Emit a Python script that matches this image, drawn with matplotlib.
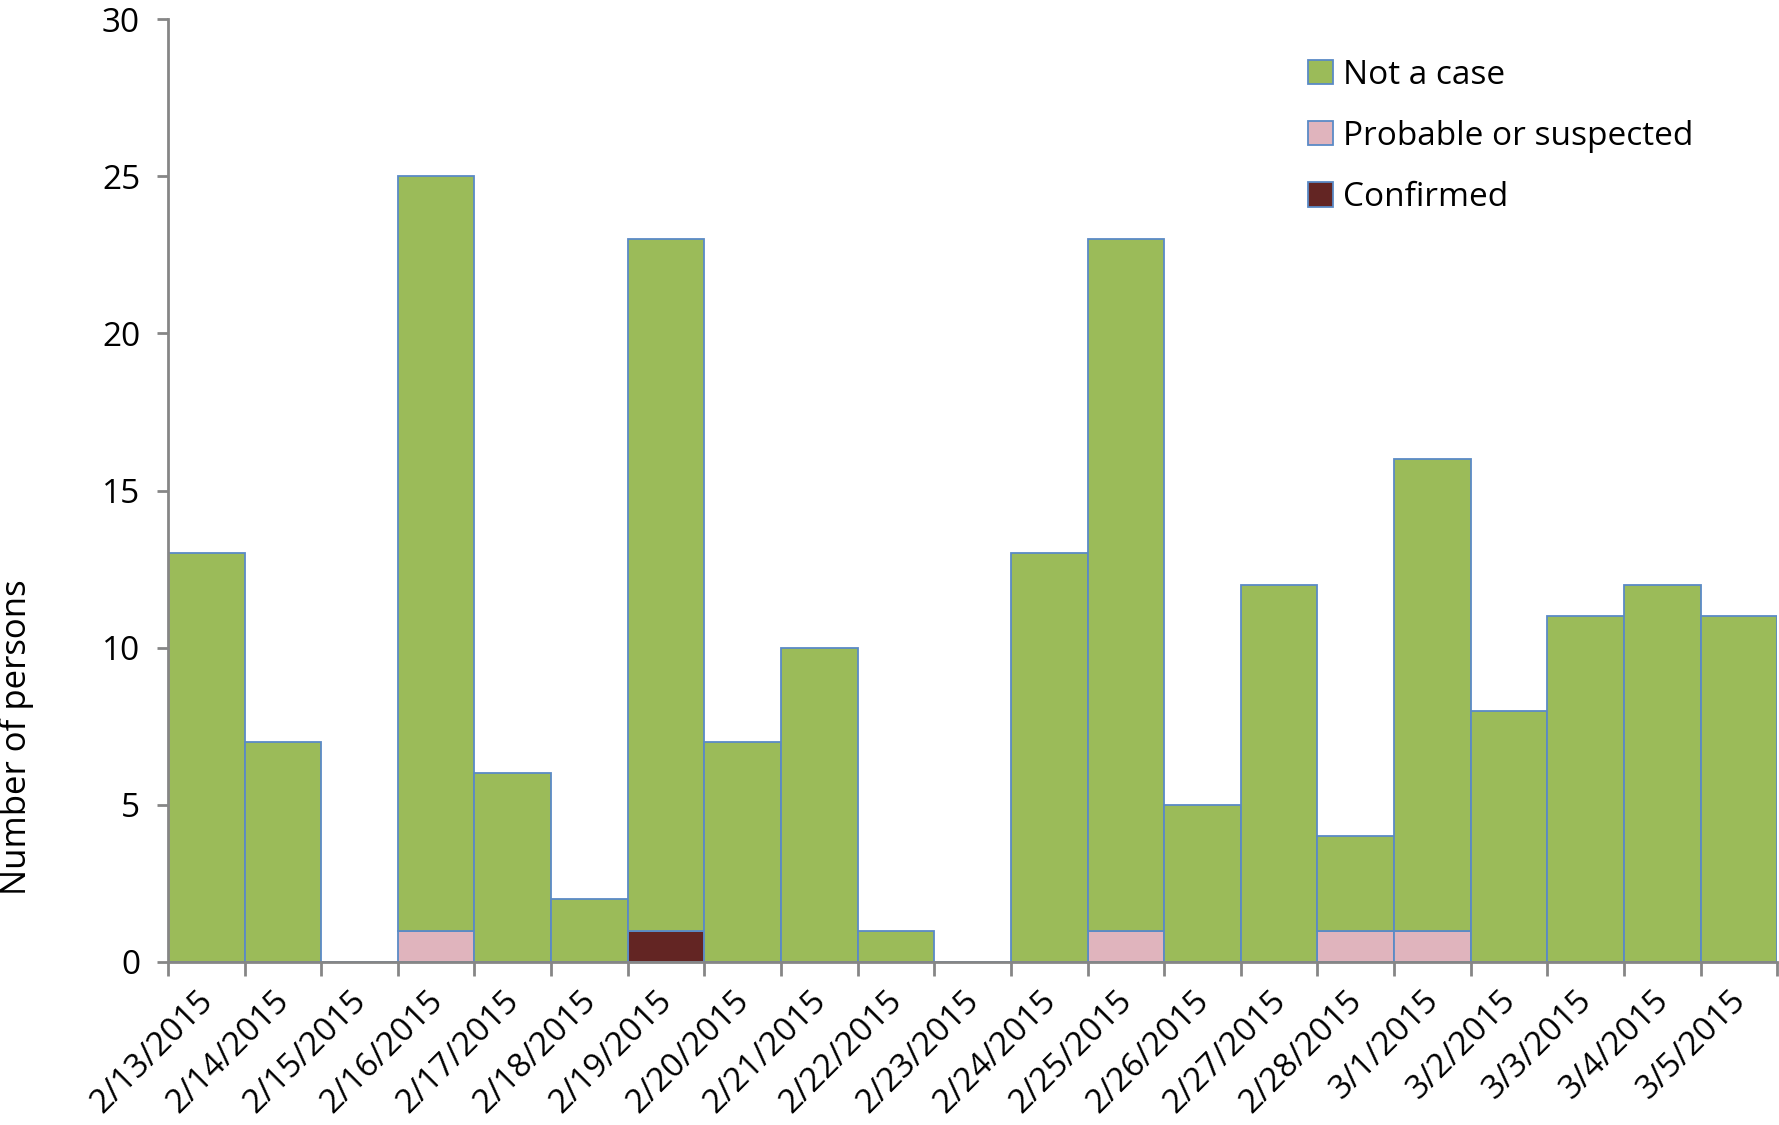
import matplotlib
matplotlib.use("Agg")
import matplotlib.pyplot as plt
import matplotlib.transforms as mtransforms
import numpy as np

dates = ["2/13/2015", "2/14/2015", "2/15/2015", "2/16/2015", "2/17/2015", "2/18/2015",
         "2/19/2015", "2/20/2015", "2/21/2015", "2/22/2015", "2/23/2015", "2/24/2015",
         "2/25/2015", "2/26/2015", "2/27/2015", "2/28/2015", "3/1/2015", "3/2/2015",
         "3/3/2015", "3/4/2015", "3/5/2015"]
confirmed = [0, 0, 0, 0, 0, 0, 1, 0, 0, 0, 0, 0, 0, 0, 0, 0, 0, 0, 0, 0, 0]
probable = [0, 0, 0, 1, 0, 0, 0, 0, 0, 0, 0, 0, 1, 0, 0, 1, 1, 0, 0, 0, 0]
not_case = [13, 7, 0, 24, 6, 2, 22, 7, 10, 1, 0, 13, 22, 5, 12, 3, 15, 8, 11, 12, 11]

plt.rcParams['font.family'] = ['Open Sans', 'DejaVu Sans']

fig = plt.figure(figsize=(17.79, 11.25), dpi=100)
ax = fig.add_axes([0.0944, 0.1449, 0.9046, 0.8381])

x = np.arange(len(dates))
conf = np.array(confirmed)
prob = np.array(probable)
notc = np.array(not_case)
edge = '#5A8AC6'
ax.bar(x, conf, width=1.0, color='#632523', edgecolor=edge, linewidth=1.3, label='Confirmed')
ax.bar(x, prob, width=1.0, bottom=conf, color='#E0B4BD', edgecolor=edge, linewidth=1.3,
       label='Probable or suspected')
ax.bar(x, notc, width=1.0, bottom=conf + prob, color='#9BBB59', edgecolor=edge, linewidth=1.3,
       label='Not a case')

ax.set_xlim(-0.5, len(dates) - 0.5)
ax.set_ylim(0, 30)
ax.set_yticks([0, 5, 10, 15, 20, 25, 30])
ax.tick_params(axis='y', labelsize=24, length=8, width=2, color='#868686', pad=12)

ax.set_xticks(np.arange(len(dates) + 1) - 0.5)
ax.set_xticklabels([])
ax.set_xticks(x, minor=True)
ax.set_xticklabels(dates, minor=True, rotation=45, ha='right', rotation_mode='anchor', fontsize=24)
ax.tick_params(axis='x', which='major', length=10, width=2, color='#868686')
ax.tick_params(axis='x', which='minor', length=0, pad=16)
offset = mtransforms.ScaledTranslation(-10 / 100, 0, fig.dpi_scale_trans)
for lbl in ax.get_xticklabels(minor=True):
    lbl.set_transform(lbl.get_transform() + offset)

for s in ['top', 'right']:
    ax.spines[s].set_visible(False)
for s in ['left', 'bottom']:
    ax.spines[s].set_color('#868686')
    ax.spines[s].set_linewidth(2)

ax.set_ylabel('Number of persons', fontsize=25)
ax.yaxis.set_label_coords(-0.083, 0.238)

handles, labels = ax.get_legend_handles_labels()
leg = ax.legend(handles[::-1], labels[::-1], loc='upper left', bbox_to_anchor=(0.69, 0.99),
                frameon=False, fontsize=24, handlelength=0.75, handleheight=0.75,
                handletextpad=0.3, labelspacing=0.85)

fig.savefig('out.png', dpi=100)
